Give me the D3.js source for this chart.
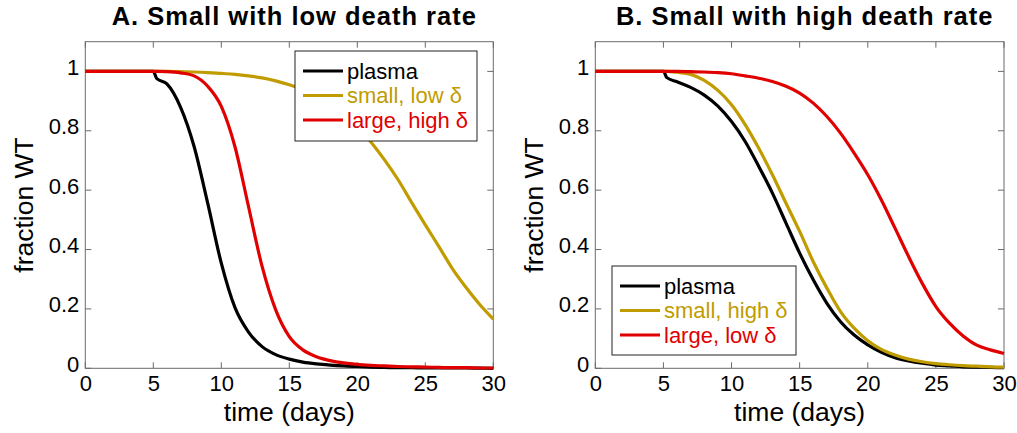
<!DOCTYPE html>
<html>
<head>
<meta charset="utf-8">
<script src="https://cdn.jsdelivr.net/npm/d3@7"></script>
<style>
  body { margin: 0; background: #fff; }
  svg { font-family: "Liberation Sans", Arial, sans-serif; }
</style>
</head>
<body>
<div id="chart"></div>
<script>
// sample times (days), shared by every series
var days = [0, 5, 5.25, 6, 7, 8, 9, 10, 11, 12, 13, 14, 15, 16, 17, 18, 19, 20,
    21, 22, 23, 24, 25, 26, 27, 28, 29, 30];

// panel A: small with low death rate
var plasmaA = [1, 1, 0.976, 0.958, 0.88, 0.747, 0.556, 0.354, 0.205, 0.122, 0.073, 0.046, 0.031, 0.021,
    0.015, 0.011, 0.008, 0.006, 0.004, 0.003, 0.002, 0.002, 0.001, 0.001, 0.001, 0.001, 0.0005, 0];
var smallLowA = [1, 1, 1, 1, 0.999, 0.998, 0.996, 0.993, 0.99, 0.985, 0.978, 0.968, 0.955, 0.94,
    0.92, 0.893, 0.86, 0.815, 0.762, 0.702, 0.635, 0.558, 0.483, 0.41, 0.335, 0.272, 0.215, 0.166];
var largeHighA = [1, 1, 1, 0.999, 0.995, 0.985, 0.95, 0.882, 0.747, 0.545, 0.343, 0.197, 0.107, 0.062,
    0.039, 0.026, 0.018, 0.013, 0.01, 0.008, 0.006, 0.005, 0.004, 0.003, 0.002, 0.002, 0.001, 0.001];

// panel B: small with high death rate
var plasmaB = [1, 1, 0.979, 0.965, 0.946, 0.92, 0.883, 0.831, 0.764, 0.68, 0.59, 0.489, 0.388, 0.298,
    0.219, 0.157, 0.112, 0.079, 0.054, 0.036, 0.025, 0.017, 0.011, 0.008, 0.005, 0.004, 0.003, 0.002];
var smallHighB = [1, 1, 1, 0.997, 0.99, 0.97, 0.936, 0.888, 0.821, 0.741, 0.652, 0.556, 0.461, 0.359,
    0.27, 0.191, 0.135, 0.093, 0.064, 0.045, 0.031, 0.022, 0.016, 0.012, 0.009, 0.007, 0.005, 0.004];
var largeLowB = [1, 1, 1, 1, 0.999, 0.998, 0.996, 0.992, 0.985, 0.977, 0.966, 0.95, 0.927, 0.893,
    0.848, 0.792, 0.725, 0.652, 0.567, 0.472, 0.376, 0.286, 0.208, 0.152, 0.109, 0.078, 0.062, 0.05];

var xTicks = [0, 5, 10, 15, 20, 25, 30];
var yTicks = [0, 0.2, 0.4, 0.6, 0.8, 1];
var yTickLabels = ["0", "0.2", "0.4", "0.6", "0.8", "1"];

var colors = { plasma: "#000000", small: "#c09c00", large: "#e00000" };

var svg = d3.select("#chart").append("svg")
    .attr("width", 1017)
    .attr("height", 433);

function drawPanel(opts) {
    var x = d3.scaleLinear().domain([0, 30]).range([opts.left, opts.right]);
    var y = d3.scaleLinear().domain([0, 1.1]).range([368.3, 41.7]);
    var g = svg.append("g");
    var axisColor = "#6b6b6b";
    var tickLen = 6;

    // title
    g.append("text")
        .attr("x", (opts.left + opts.right) / 2 + 5)
        .attr("y", 25)
        .attr("text-anchor", "middle")
        .attr("font-size", 25.5)
        .attr("letter-spacing", 1)
        .attr("font-weight", "bold")
        .text(opts.title);

    // tick labels (tick marks drawn by hand below, pointing inward)
    var bottom = d3.axisBottom(x).tickValues(xTicks).tickSize(0).tickPadding(7);
    g.append("g").attr("transform", "translate(0," + y(0) + ")").call(bottom)
        .call(function (s) {
            s.select(".domain").remove();
            s.selectAll("text").attr("font-size", 22).attr("fill", "#000").attr("font-family", null);
        });

    var left = d3.axisLeft(y).tickValues(yTicks).tickSize(0).tickPadding(6)
        .tickFormat(function (d, i) { return yTickLabels[i]; });
    g.append("g").attr("transform", "translate(" + x(0) + ",-4)").call(left)
        .call(function (s) {
            s.select(".domain").remove();
            s.selectAll("text").attr("font-size", 22).attr("fill", "#000").attr("font-family", null);
        });

    xTicks.forEach(function (t) {
        g.append("line").attr("x1", x(t)).attr("x2", x(t)).attr("y1", y(0)).attr("y2", y(0) - tickLen)
            .attr("stroke", axisColor);
        g.append("line").attr("x1", x(t)).attr("x2", x(t)).attr("y1", y(1.1)).attr("y2", y(1.1) + tickLen)
            .attr("stroke", axisColor);
    });
    yTicks.forEach(function (v) {
        g.append("line").attr("x1", x(0)).attr("x2", x(0) + tickLen).attr("y1", y(v)).attr("y2", y(v))
            .attr("stroke", axisColor);
        g.append("line").attr("x1", x(30)).attr("x2", x(30) - tickLen).attr("y1", y(v)).attr("y2", y(v))
            .attr("stroke", axisColor);
    });

    // box
    g.append("rect")
        .attr("x", x(0)).attr("y", y(1.1))
        .attr("width", x(30) - x(0)).attr("height", y(0) - y(1.1))
        .attr("fill", "none")
        .attr("stroke", axisColor);

    // axis labels
    g.append("text")
        .attr("x", (opts.left + opts.right) / 2)
        .attr("y", 421)
        .attr("text-anchor", "middle")
        .attr("font-size", 26.5)
        .text("time (days)");
    g.append("text")
        .attr("transform", "translate(" + (opts.left - 52) + "," + ((y(0) + y(1.1)) / 2) + ") rotate(-90)")
        .attr("text-anchor", "middle")
        .attr("font-size", 26.5)
        .text("fraction WT");

    // curves
    var line = d3.line()
        .x(function (d, i) { return x(days[i]); })
        .y(function (d) { return y(d); })
        .curve(d3.curveMonotoneX);
    opts.series.forEach(function (s) {
        g.append("path")
            .attr("d", line(s.values))
            .attr("fill", "none")
            .attr("stroke", s.color)
            .attr("stroke-width", 3.2);
    });

    // legend
    var L = opts.legend;
    var leg = g.append("g").attr("transform", "translate(" + L.x + "," + L.y + ")");
    leg.append("rect")
        .attr("width", L.w).attr("height", L.h)
        .attr("fill", "#fff")
        .attr("stroke", "#222")
        .attr("stroke-width", 1);
    opts.series.forEach(function (s, i) {
        var cy = 20 + i * 24.5;
        leg.append("line")
            .attr("x1", 8).attr("x2", 48).attr("y1", cy).attr("y2", cy)
            .attr("stroke", s.color).attr("stroke-width", 3.2);
        leg.append("text")
            .attr("x", 52).attr("y", cy)
            .attr("dy", "0.35em")
            .attr("font-size", 22)
            .attr("fill", s.color)
            .text(s.name);
    });
}

drawPanel({
    title: "A. Small with low death rate",
    left: 85.3, right: 493.3,
    series: [
        { name: "plasma", values: plasmaA, color: colors.plasma },
        { name: "small, low \u03b4", values: smallLowA, color: colors.small },
        { name: "large, high \u03b4", values: largeHighA, color: colors.large }
    ],
    legend: { x: 295, y: 51, w: 182, h: 90 }
});

drawPanel({
    title: "B. Small with high death rate",
    left: 595.3, right: 1004,
    series: [
        { name: "plasma", values: plasmaB, color: colors.plasma },
        { name: "small, high \u03b4", values: smallHighB, color: colors.small },
        { name: "large, low \u03b4", values: largeLowB, color: colors.large }
    ],
    legend: { x: 612, y: 266, w: 184, h: 89 }
});
</script>
</body>
</html>
